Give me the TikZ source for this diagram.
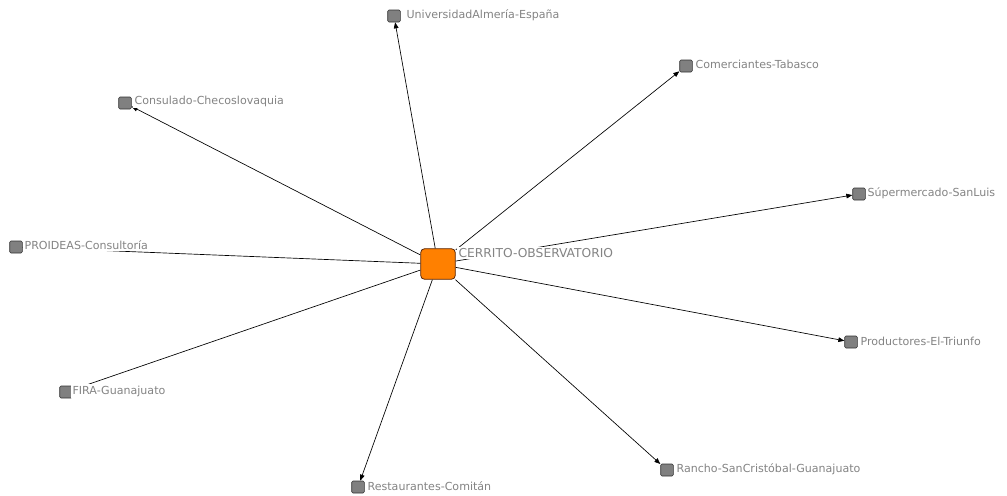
\documentclass[tikz,border=0pt]{standalone}
\usepackage{fontspec}
\setmainfont{DejaVu Sans}
\usetikzlibrary{arrows.meta}
\definecolor{lbl}{RGB}{132,132,132}
\definecolor{sq}{RGB}{128,128,128}
\definecolor{ctr}{RGB}{255,128,0}
\definecolor{ctrb}{RGB}{90,40,10}
\tikzset{
  leaf/.style={draw=black!80, fill=sq, line width=0.5pt, minimum width=9.5pt, minimum height=9pt, inner sep=0pt, rounded corners=1pt},
  hub/.style={draw=ctrb, fill=ctr, line width=0.6pt, minimum width=26pt, minimum height=23pt, inner sep=0pt, rounded corners=3pt},
  lab/.style={anchor=west, text=lbl, font=\fontsize{8.3}{9}\selectfont, inner sep=1pt, fill=white},
  link/.style={draw=black, line width=0.5pt},
  arr/.style={link, -{Triangle[length=4.5pt,width=3.5pt]}},
}
\begin{document}
\begin{tikzpicture}[x=0.75pt,y=-0.75pt]
\useasboundingbox (0,0) rectangle (1007,496);
\fill[white] (0,0) rectangle (1007,496);
\node[hub] (c) at (438,264) {};
\node[leaf] (u) at (394,16) {};
\node[leaf] (ct) at (686,66) {};
\node[leaf] (cs) at (125,103) {};
\node[leaf] (s) at (859,194) {};
\node[leaf] (p) at (16,247) {};
\node[leaf] (pr) at (851,342) {};
\node[leaf] (f) at (66,392) {};
\node[leaf] (r) at (358,487) {};
\node[leaf] (ra) at (667,470) {};
\draw[arr] (c) -- (u);
\draw[arr] (c) -- (ct);
\draw[arr] (c) -- (cs);
\draw[arr] (c) -- (s);
\draw[link] (c) -- (p);
\draw[arr] (c) -- (pr);
\draw[link] (c) -- (f);
\draw[arr] (c) -- (r);
\draw[arr] (c) -- (ra);
\node[lab, font=\fontsize{9.2}{10}\selectfont] (lc) at (457,253) {CERRITO-OBSERVATORIO};
\node[lab] (lu) at (405,15) {UniversidadAlmería-España};
\node[lab] (lct) at (694,64) {Comerciantes-Tabasco};
\node[lab] (lcs) at (133,101) {Consulado-Checoslovaquia};
\node[lab] (ls) at (866,193) {Súpermercado-SanLuis};
\node[lab] (lp) at (23,245) {PROIDEAS-Consultoría};
\node[lab] (lpr) at (859,341) {Productores-El-Triunfo};
\node[lab] (lf) at (71,391) {FIRA-Guanajuato};
\node[lab] (lr) at (366,486) {Restaurantes-Comitán};
\node[lab] (lra) at (675,469) {Rancho-SanCristóbal-Guanajuato};
\end{tikzpicture}
\end{document}
